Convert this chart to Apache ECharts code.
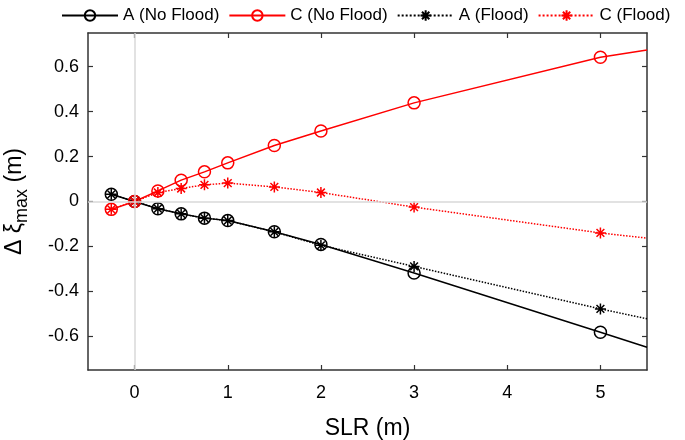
<!DOCTYPE html>
<html>
<head>
<meta charset="utf-8">
<script src="https://cdn.jsdelivr.net/npm/echarts@6/dist/echarts.min.js"></script>
<style>html,body{margin:0;padding:0;background:#fff}#c{width:685px;height:440px}</style>
</head>
<body>
<div id="c"></div>
<script>
// Data
const slr = [-0.25, 0, 0.25, 0.5, 0.75, 1, 1.5, 2, 3, 5, 5.5];
const aNoFlood = [0.032, 0, -0.032, -0.055, -0.074, -0.085, -0.135, -0.191, -0.318, -0.582, -0.649];
const cNoFlood = [-0.035, 0, 0.047, 0.095, 0.132, 0.172, 0.249, 0.314, 0.439, 0.642, 0.674];
const aFlood = [0.032, 0, -0.032, -0.055, -0.074, -0.085, -0.135, -0.195, -0.289, -0.478, -0.522];
const cFlood = [-0.035, 0, 0.040, 0.058, 0.074, 0.082, 0.065, 0.040, -0.025, -0.140, -0.163];
const seriesNames = ['A (No Flood)', 'C (No Flood)', 'A (Flood)', 'C (Flood)'];
const xTicks = [0, 1, 2, 3, 4, 5];
const yTicks = [-0.6, -0.4, -0.2, 0, 0.2, 0.4, 0.6];

const FONT = "'Liberation Sans', Arial, sans-serif";
const STAR = 'path://M0,-10L0,10M-10,0L10,0M-7.07,-7.07L7.07,7.07M-7.07,7.07L7.07,-7.07';

function pts(ys) {
  return slr.map((x, i) => (i === slr.length - 1)
    ? { value: [x, ys[i]], symbol: 'none' }
    : { value: [x, ys[i]] });
}

function mkSeries(name, ys, color, dotted, star) {
  return {
    name: name,
    type: 'line',
    z: 3,
    data: pts(ys),
    symbol: star ? STAR : 'circle',
    symbolSize: star ? 11 : 12,
    showAllSymbol: true,
    animation: false,
    lineStyle: { color: color, width: 1.5, type: dotted ? 'dotted' : 'solid' },
    itemStyle: star
      ? { color: color, borderColor: color, borderWidth: 1.5 }
      : { color: 'rgba(0,0,0,0)', borderColor: color, borderWidth: 1.5 },
    emphasis: { disabled: true }
  };
}

const axisCommonX = {
  type: 'value', min: -0.5, max: 5.5,
  axisLine: { show: true, onZero: false, lineStyle: { color: '#333', width: 1.5 } },
  axisTick: { show: true, inside: true, length: 5, customValues: xTicks, lineStyle: { color: '#333', width: 1.2 } },
  splitLine: { show: false }
};
const axisCommonY = {
  type: 'value', min: -0.75, max: 0.75,
  axisLine: { show: true, onZero: false, lineStyle: { color: '#333', width: 1.5 } },
  axisTick: { show: true, inside: true, length: 5, customValues: yTicks, lineStyle: { color: '#333', width: 1.2 } },
  splitLine: { show: false }
};

const chart = echarts.init(document.getElementById('c'), null, { renderer: 'canvas' });
chart.setOption({
  animation: false,
  textStyle: { fontFamily: FONT },
  grid: { left: 88, right: 38, top: 33, bottom: 70, containLabel: false, outerBoundsMode: 'none' },
  legend: {
    data: seriesNames,
    top: 2, left: 56, width: 629,
    itemWidth: 56, itemHeight: 13, itemGap: 9,
    textStyle: { fontFamily: FONT, fontSize: 17, color: '#000' }
  },
  xAxis: [
    Object.assign({}, axisCommonX, {
      position: 'bottom',
      name: 'SLR (m)', nameLocation: 'middle', nameGap: 47,
      nameTextStyle: { fontFamily: FONT, fontSize: 23, color: '#000' },
      axisLabel: { show: true, customValues: xTicks, margin: 14, fontSize: 18, color: '#000', fontFamily: FONT }
    }),
    Object.assign({}, axisCommonX, { position: 'top', axisLabel: { show: false } })
  ],
  yAxis: [
    Object.assign({}, axisCommonY, {
      position: 'left',
      name: 'Δ {i|ξ}{sub|max} (m)', nameLocation: 'middle', nameRotate: 90, nameGap: 57,
      nameTextStyle: {
        fontFamily: FONT, fontSize: 23, color: '#000',
        rich: {
          i: { fontFamily: FONT, fontSize: 23, color: '#000' },
          sub: { fontFamily: FONT, fontSize: 18, color: '#000', padding: [14, 0, 0, 0] }
        }
      },
      axisLabel: {
        show: true, customValues: yTicks, margin: 9, fontSize: 18, color: '#000', fontFamily: FONT,
        formatter: v => (Math.abs(v) < 1e-9 ? '0' : v.toFixed(1))
      }
    }),
    Object.assign({}, axisCommonY, { position: 'right', axisLabel: { show: false } })
  ],
  series: [
    {
      name: 'zero', type: 'line', data: [], z: 1, silent: true,
      markLine: {
        silent: true, symbol: ['none', 'none'], animation: false,
        label: { show: false },
        lineStyle: { color: '#d9d9d9', width: 1.5, type: 'solid' },
        emphasis: { disabled: true },
        data: [{ xAxis: 0 }, { yAxis: 0 }]
      }
    },
    mkSeries(seriesNames[0], aNoFlood, '#000', false, false),
    mkSeries(seriesNames[1], cNoFlood, '#ff0000', false, false),
    mkSeries(seriesNames[2], aFlood, '#000', true, true),
    mkSeries(seriesNames[3], cFlood, '#ff0000', true, true)
  ]
});
</script>
</body>
</html>
